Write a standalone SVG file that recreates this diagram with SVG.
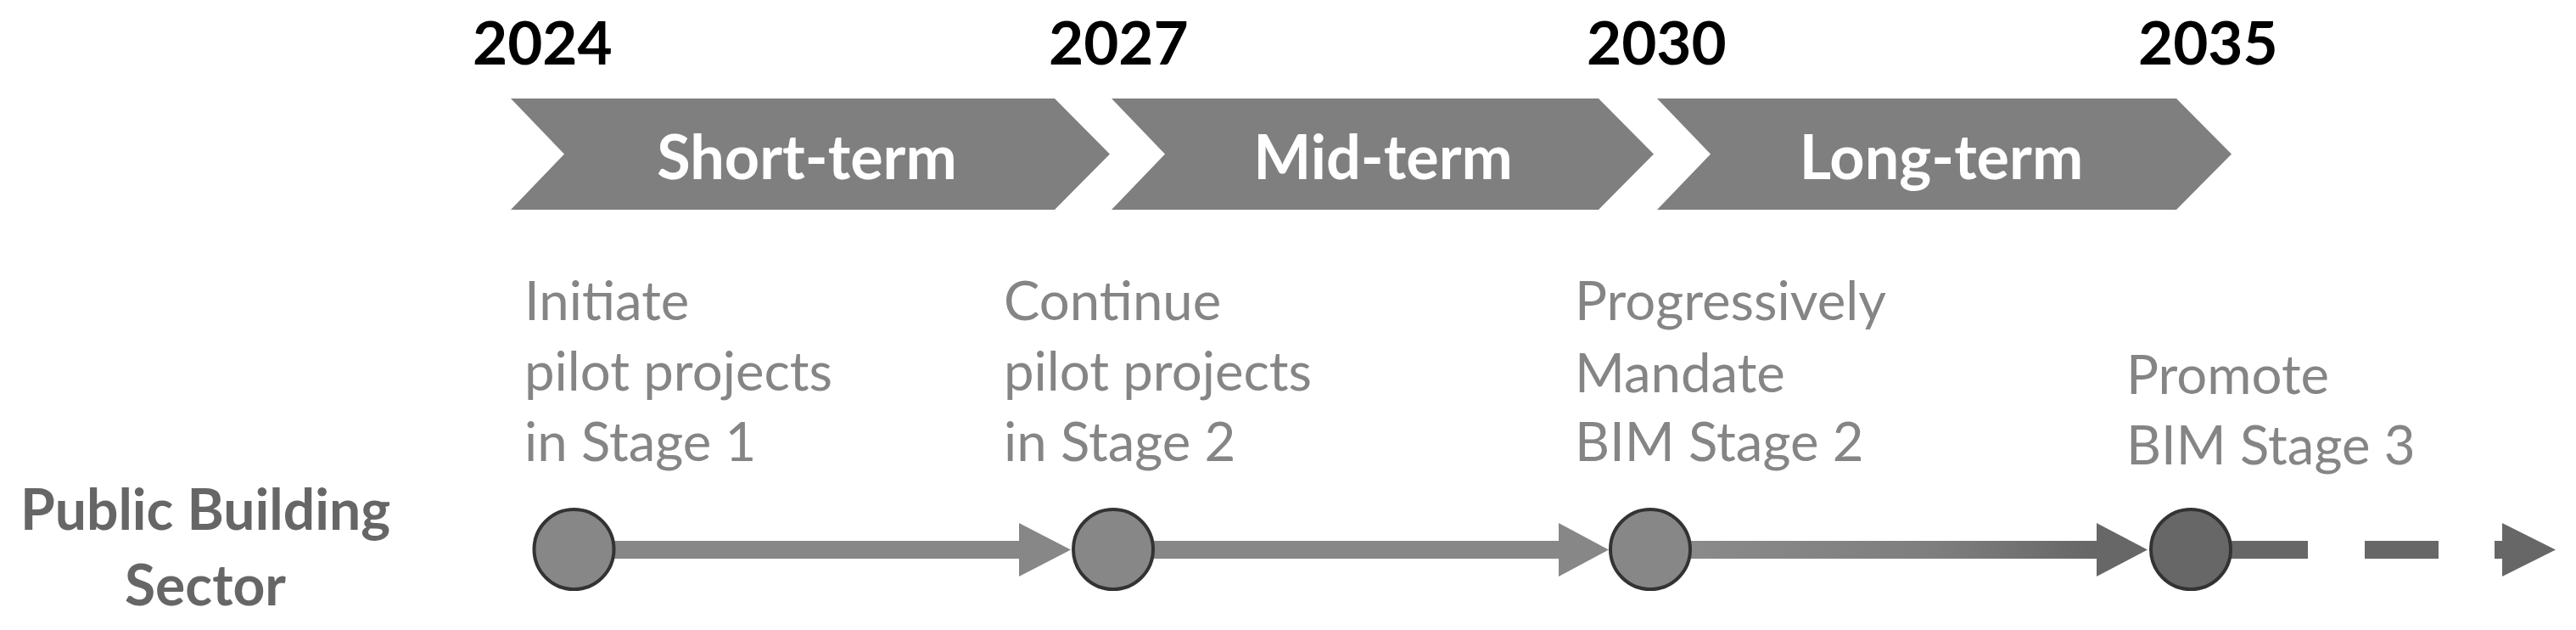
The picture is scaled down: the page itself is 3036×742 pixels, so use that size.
<svg xmlns="http://www.w3.org/2000/svg" width="3036" height="742" viewBox="0 0 3036 742">
<style>
.year{font-family:Lato,"Liberation Sans",sans-serif;font-weight:700;font-size:71px;fill:#000}
.phase{font-family:Lato,"Liberation Sans",sans-serif;font-weight:700;font-size:72px;fill:#fff;text-anchor:middle}
.desc{font-family:Lato,"Liberation Sans",sans-serif;font-size:63.5px;fill:#858585}
.sector{font-family:Lato,"Liberation Sans",sans-serif;font-weight:700;font-size:66px;fill:#666;text-anchor:middle}
.chev{fill:#7f7f7f}
.ms{fill:#878787;stroke:#333;stroke-width:4}
.ms4{fill:#676767;stroke:#333;stroke-width:4}
.ln{fill:#878787}
.dk{fill:#676767}
</style>
<defs>
<linearGradient id="g3" x1="1993" y1="0" x2="2471" y2="0" gradientUnits="userSpaceOnUse">
<stop offset="0" stop-color="#8a8a8a"/>
<stop offset="0.6" stop-color="#7e7e7e"/>
<stop offset="1" stop-color="#666"/>
</linearGradient>
</defs>
<rect width="3036" height="742" fill="#fff"/>
<g id="years">
<text class="year" x="557" y="76">2024</text>
<text class="year" x="1236" y="76">2027</text>
<text class="year" x="1870" y="76">2030</text>
<text class="year" x="2520" y="76">2035</text>
</g>
<g id="short-term">
<path class="chev" d="M602,116 L1243,116 L1308,181.5 L1243,247 L602,247 L665,181.5 Z"/>
<text class="phase" x="951" y="211">Short-term</text>
</g>
<g id="mid-term">
<path class="chev" d="M1310,116 L1884,116 L1949,181.5 L1884,247 L1310,247 L1373,181.5 Z"/>
<text class="phase" x="1630" y="211">Mid-term</text>
</g>
<g id="long-term">
<path class="chev" d="M1953,116 L2565,116 L2630,181.5 L2565,247 L1953,247 L2016,181.5 Z"/>
<text class="phase" x="2288" y="211">Long-term</text>
</g>
<g id="sector-label">
<text class="sector" x="242" y="624">Public Building</text>
<text class="sector" x="242" y="713">Sector</text>
</g>
<g id="connectors">
<rect class="ln" x="722" y="637" width="481" height="21"/>
<polygon class="ln" points="1201,616 1262,647.5 1201,679"/>
<rect class="ln" x="1358" y="637" width="481" height="21"/>
<polygon class="ln" points="1837,616 1896,647.5 1837,679"/>
<rect fill="url(#g3)" x="1990" y="637" width="483" height="21"/>
<polygon class="dk" points="2471,616 2531,647.5 2471,679"/>
<rect class="dk" x="2628" y="637" width="92" height="21"/>
<rect class="dk" x="2787" y="637" width="87" height="21"/>
<rect class="dk" x="2940" y="637" width="11" height="21"/>
<polygon class="dk" points="2949,616 3012,647.5 2949,679"/>
</g>
<g id="m2024">
<circle class="ms" cx="676.5" cy="647" r="47"/>
<text class="desc" x="618" y="377">Initiate</text>
<text class="desc" x="618" y="460">pilot projects</text>
<text class="desc" x="618" y="543">in Stage 1</text>
</g>
<g id="m2027">
<circle class="ms" cx="1312" cy="647" r="47"/>
<text class="desc" x="1183" y="377">Continue</text>
<text class="desc" x="1183" y="460">pilot projects</text>
<text class="desc" x="1183" y="543">in Stage 2</text>
</g>
<g id="m2030">
<circle class="ms" cx="1945" cy="647" r="47"/>
<text class="desc" x="1856" y="377">Progressively</text>
<text class="desc" x="1856" y="462">Mandate</text>
<text class="desc" x="1856" y="543">BIM Stage 2</text>
</g>
<g id="m2035">
<circle class="ms4" cx="2582" cy="647" r="47"/>
<text class="desc" x="2506" y="464">Promote</text>
<text class="desc" x="2506" y="547">BIM Stage 3</text>
</g>
</svg>
